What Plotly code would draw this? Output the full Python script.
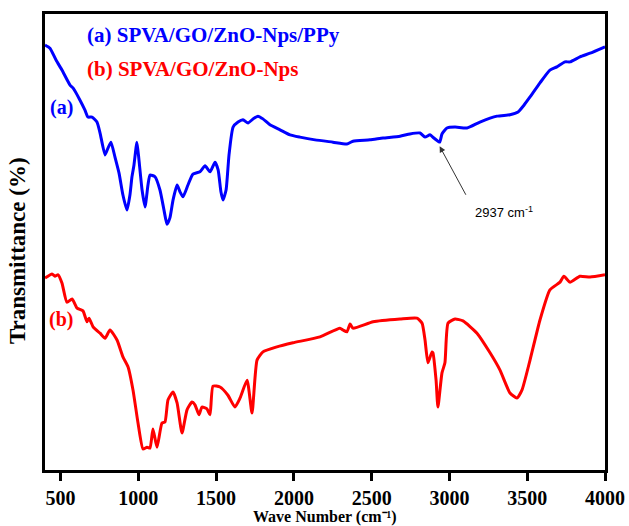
import plotly.graph_objects as go

# FTIR spectra: wave number (cm^-1) vs transmittance (arbitrary %, offset traces)
wn_a = [400, 432, 471, 509, 561, 580, 625, 657, 676, 702, 734, 754, 786, 805, 824, 850,
        876, 901, 927, 946, 959, 972, 991, 1004, 1024, 1043, 1062, 1075, 1107, 1139, 1165,
        1184, 1203, 1223, 1249, 1268, 1287, 1319, 1351, 1396, 1429, 1461, 1493, 1513, 1531,
        1544, 1564, 1583, 1609, 1641, 1673, 1705, 1738, 1769, 1801, 1846, 1911, 1975, 2039,
        2136, 2251, 2341, 2380, 2489, 2573, 2682, 2746, 2811, 2843, 2875, 2900, 2937, 2952,
        2984, 3036, 3113, 3196, 3306, 3389, 3441, 3479, 3518, 3582, 3646, 3691, 3743, 3775,
        3839, 3904, 4000]
tr_a = [93.2, 92.5, 89.9, 87.7, 84.4, 83.8, 81.1, 78.9, 77.4, 77.4, 76.3, 73.9, 69.1, 70.6,
        71.9, 68.6, 65.1, 60.3, 57.0, 60.3, 64.3, 66.9, 71.9, 68.0, 61.4, 57.7, 62.5, 64.7,
        64.3, 61.4, 57.0, 53.9, 55.3, 59.2, 62.5, 61.0, 59.9, 62.5, 64.9, 65.4, 66.7, 65.4,
        67.5, 65.8, 61.0, 59.2, 61.4, 69.1, 75.2, 76.3, 76.8, 76.1, 77.0, 77.6, 77.0, 75.7,
        74.6, 73.5, 73.0, 72.4, 71.9, 71.5, 72.1, 72.4, 72.8, 73.2, 73.7, 73.9, 73.0, 73.5,
        72.8, 71.9, 73.7, 75.0, 75.2, 75.0, 76.3, 77.6, 77.9, 78.5, 80.0, 81.8, 84.9, 87.7,
        88.4, 89.5, 89.5, 90.6, 91.4, 92.8]

wn_b = [400, 445, 464, 484, 509, 541, 574, 606, 644, 670, 683, 709, 754, 786, 818, 863,
        901, 934, 966, 998, 1030, 1056, 1075, 1094, 1120, 1152, 1171, 1191, 1223, 1249, 1281,
        1313, 1345, 1364, 1390, 1409, 1441, 1461, 1480, 1525, 1576, 1621, 1654, 1699, 1731,
        1763, 1801, 1891, 1994, 2168, 2296, 2316, 2341, 2361, 2380, 2509, 2682, 2791, 2824,
        2843, 2862, 2888, 2894, 2914, 2926, 2952, 2971, 2991, 3036, 3087, 3177, 3261, 3325,
        3389, 3434, 3466, 3518, 3582, 3646, 3711, 3736, 3775, 3839, 3904, 4000]
tr_b = [42.1, 43.0, 42.5, 42.8, 41.0, 36.8, 37.5, 35.5, 34.9, 32.5, 33.3, 31.4, 30.0, 28.9,
        30.7, 28.5, 24.8, 22.6, 17.5, 10.3, 4.6, 5.0, 4.8, 9.0, 5.0, 10.3, 10.5, 15.4, 17.1,
        14.7, 8.1, 13.2, 14.9, 14.3, 12.1, 13.8, 13.4, 12.1, 18.4, 18.2, 16.4, 13.8, 15.8,
        19.7, 12.5, 24.1, 25.9, 27.0, 27.9, 29.2, 31.1, 30.7, 30.3, 32.0, 31.1, 32.5, 33.1,
        33.3, 32.2, 28.5, 23.5, 25.9, 25.7, 19.7, 13.8, 21.3, 23.5, 32.2, 33.1, 32.7, 30.0,
        25.7, 21.9, 16.9, 15.8, 17.5, 24.1, 32.9, 39.5, 41.2, 42.5, 41.2, 42.5, 42.3, 42.8]

x_ticks = [500, 1000, 1500, 2000, 2500, 3000, 3500, 4000]
peak_wn = 2937
peak_tr = 71.0

SERIF = "Liberation Serif"
BLUE = "#0000FF"
RED = "#FF0000"

fig = go.Figure()
fig.add_trace(go.Scatter(x=wn_a, y=tr_a, mode="lines",
                         line=dict(color=BLUE, width=3, shape="spline", smoothing=0.5),
                         name="(a) SPVA/GO/ZnO-Nps/PPy"))
fig.add_trace(go.Scatter(x=wn_b, y=tr_b, mode="lines",
                         line=dict(color=RED, width=3, shape="spline", smoothing=0.5),
                         name="(b) SPVA/GO/ZnO-Nps"))

fig.update_layout(
    width=629, height=526,
    margin=dict(l=45, r=24, t=14, b=56),
    paper_bgcolor="white", plot_bgcolor="white",
    showlegend=False,
    xaxis=dict(range=[400, 4000], tickvals=x_ticks, ticktext=[str(v) for v in x_ticks],
               automargin=False,
               showgrid=False, zeroline=False, showline=True, linecolor="black", linewidth=2.5,
               mirror=True, ticks="outside", ticklen=8, tickwidth=2.5, tickcolor="black",
               tickfont=dict(family=SERIF, size=20, color="black", weight="bold")),
    yaxis=dict(range=[0, 100], showgrid=False, zeroline=False, showline=True,
               automargin=False,
               linecolor="black", linewidth=2.5, mirror=True, ticks="",
               showticklabels=False),
)

# Series labels in the upper-left corner and beside each trace
fig.add_annotation(xref="paper", yref="paper", x=0.071, y=0.955, xanchor="left", yanchor="middle",
                   text="(a) SPVA/GO/ZnO-Nps/PPy", showarrow=False,
                   font=dict(family=SERIF, size=21, color=BLUE, weight="bold"))
fig.add_annotation(xref="paper", yref="paper", x=0.071, y=0.88, xanchor="left", yanchor="middle",
                   text="(b) SPVA/GO/ZnO-Nps", showarrow=False,
                   font=dict(family=SERIF, size=21, color=RED, weight="bold"))
fig.add_annotation(xref="paper", yref="paper", x=0.006, y=0.795, xanchor="left", yanchor="middle",
                   text="(a)", showarrow=False,
                   font=dict(family=SERIF, size=20, color=BLUE, weight="bold"))
fig.add_annotation(xref="paper", yref="paper", x=0.004, y=0.33, xanchor="left", yanchor="middle",
                   text="(b)", showarrow=False,
                   font=dict(family=SERIF, size=20, color=RED, weight="bold"))

# Peak marker for the C-H stretch
fig.add_annotation(x=peak_wn, y=peak_tr, ax=27, ay=50, text="", showarrow=True,
                   arrowhead=2, arrowsize=1.2, arrowwidth=1, arrowcolor="#333333")
fig.add_annotation(x=3150, y=56.6, xanchor="left", yanchor="middle", showarrow=False,
                   text="2937 cm<sup>-1</sup>",
                   font=dict(family="Liberation Sans", size=13, color="black"))

# Axis titles
fig.add_annotation(xref="paper", yref="paper", x=0.5, y=-0.104, xanchor="center", yanchor="middle",
                   text="Wave Number (cm\u207b\u00b9)", showarrow=False,
                   font=dict(family=SERIF, size=16, color="black", weight="bold"))
fig.add_annotation(xref="paper", yref="paper", x=-0.05, y=0.48, xanchor="center", yanchor="middle",
                   text="Transmittance (%)", textangle=-90, showarrow=False,
                   font=dict(family=SERIF, size=23, color="black", weight="bold"))

fig.write_html("out.html")
